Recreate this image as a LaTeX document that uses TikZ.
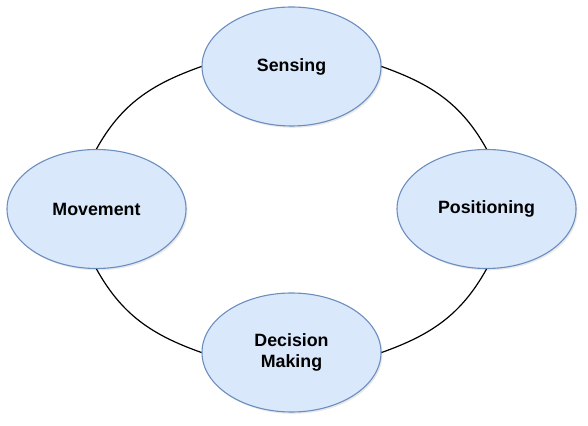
\documentclass[tikz,border=0pt]{standalone}
\usepackage{fontspec}
\setmainfont{Liberation Sans}
\usetikzlibrary{shapes.geometric,shadows}
\definecolor{nodefill}{HTML}{DAE8FC}
\definecolor{nodeline}{HTML}{6C8EBF}
\begin{document}
\begin{tikzpicture}[x=1pt,y=1pt,
  stage/.style={ellipse, draw=nodeline, fill=nodefill, line width=1.1pt,
    minimum width=179pt, minimum height=119pt, inner sep=0pt,
    align=center, font=\fontsize{17.8}{21.6}\selectfont\bfseries,
    drop shadow={opacity=0.18, shadow xshift=1.5pt, shadow yshift=-1.8pt}},
  link/.style={draw=black, line width=1.2pt}]
\useasboundingbox (0,0) rectangle (588,425);
\node[stage] (sens) at (291.5,358.5) {Sensing};
\node[stage] (move) at (96.5,216) {Movement};
\node[stage] (pos) at (486.5,216) {Positioning};
\node[stage] (dec) at (291.5,72.5) {Decision\\Making};
\draw[link] (sens.west) to[out=199.5,in=61] (move.north);
\draw[link] (sens.east) to[out=-19.5,in=119] (pos.north);
\draw[link] (pos.south) to[out=241,in=19.5] (dec.east);
\draw[link] (move.south) to[out=299,in=160.5] (dec.west);
\end{tikzpicture}
\end{document}
